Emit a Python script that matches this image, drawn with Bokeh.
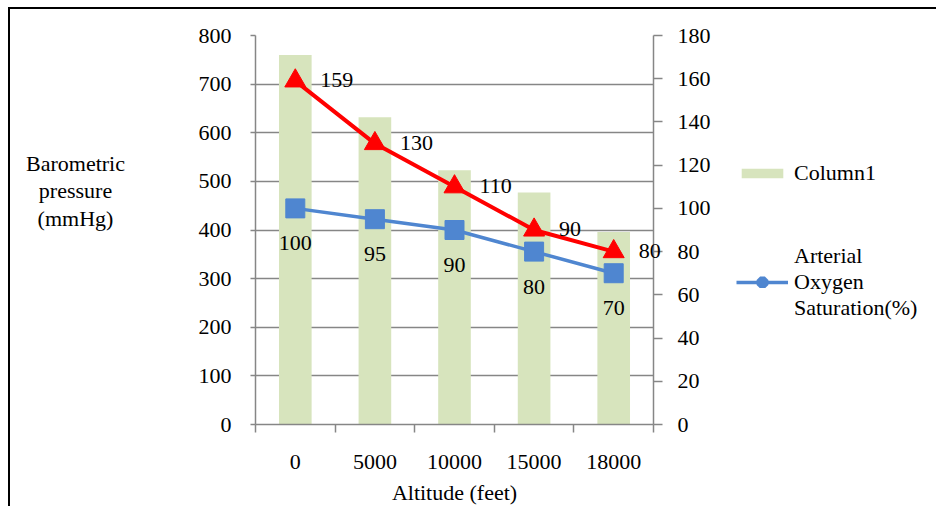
from bokeh.plotting import figure
from bokeh.layouts import row
from bokeh.models import Range1d, LinearAxis, FixedTicker, Legend, LegendItem, ColumnDataSource
from bokeh.core.properties import value
from bokeh.embed import file_html
from bokeh.resources import INLINE

altitudes = ["0", "5000", "10000", "15000", "18000"]
column1 = [760, 632, 523, 477, 396]
red_series = [159, 130, 110, 90, 80]
oxygen_sat = [100, 95, 90, 80, 70]

left_ticks = list(range(0, 801, 100))
right_ticks = list(range(0, 181, 20))
left_title = ["Barometric", "pressure", "(mmHg)"]
legend_labels = ["Column1", "Arterial\nOxygen\nSaturation(%)"]

FONT = "Liberation Serif"
FS = "22px"
GRAY = "#868686"
BLUE = "#4F86D0"
RED = "#FF0000"
GREEN = "#D7E4BD"

xs = [i + 0.5 for i in range(len(altitudes))]
src = ColumnDataSource(dict(
    x=xs, bar=column1, red=red_series, sat=oxygen_sat,
    red_lbl=[str(v) for v in red_series], sat_lbl=[str(v) for v in oxygen_sat]))

p = figure(width=705, height=499, output_backend="svg", toolbar_location=None,
           x_range=Range1d(0, len(altitudes)), y_range=Range1d(0, 800),
           min_border_left=245, min_border_right=62, min_border_top=26, min_border_bottom=84)
p.styles = {"margin-left": "8px", "margin-top": "7px",
            "border-left": "2px solid black", "border-top": "2px solid black"}
p.outline_line_color = None
p.background_fill_color = "white"
p.border_fill_color = "white"

p.extra_y_ranges = {"pct": Range1d(0, 180)}

p.vbar(x="x", top="bar", width=0.41, source=src, fill_color=GREEN, line_color=None)
p.line("x", "red", source=src, y_range_name="pct", line_color=RED, line_width=4)
p.scatter("x", "red", source=src, y_range_name="pct", marker="triangle", size=21,
          fill_color=RED, line_color=RED)
p.line("x", "sat", source=src, y_range_name="pct", line_color=BLUE, line_width=3.5)
p.scatter("x", "sat", source=src, y_range_name="pct", marker="square", size=19,
          fill_color=BLUE, line_color=BLUE)

rt = p.text("x", "red", text="red_lbl", source=src, y_range_name="pct", x_offset=25, y_offset=-1,
            text_align="left", text_baseline="middle", text_font=value(FONT),
            text_font_size=FS, text_color="black")
rt.level = "overlay"
p.text("x", "sat", text="sat_lbl", source=src, y_range_name="pct", y_offset=35,
       text_align="center", text_baseline="middle", text_font=value(FONT),
       text_font_size=FS, text_color="black")

# left title: anchored at the top-left corner of the plot area, drawn outside it
n = len(left_title)
tt = p.text(x=[p.x_range.start] * n, y=[p.y_range.end] * n, text=left_title,
            x_offset=-180, y_offset=[128, 155, 183], text_align="center",
            text_baseline="middle", text_font=value(FONT), text_font_size=FS,
            text_color="black")
tt.level = "overlay"

# grid
p.xgrid.grid_line_color = None
p.ygrid.ticker = FixedTicker(ticks=left_ticks)
p.ygrid.grid_line_color = GRAY
p.ygrid.grid_line_width = 1.5

# left axis
ya = p.yaxis[0]
ya.ticker = FixedTicker(ticks=left_ticks)
ya.axis_line_color = GRAY
ya.axis_line_width = 1.5
ya.major_tick_line_color = GRAY
ya.major_tick_line_width = 1.5
ya.major_tick_out = 5
ya.major_tick_in = 0
ya.minor_tick_line_color = None
ya.major_label_standoff = 19
ya.major_label_text_font = FONT
ya.major_label_text_font_size = FS
ya.major_label_text_color = "black"

# right axis
ra = LinearAxis(y_range_name="pct", ticker=FixedTicker(ticks=right_ticks))
ra.axis_line_color = GRAY
ra.axis_line_width = 1.5
ra.major_tick_line_color = GRAY
ra.major_tick_line_width = 1.5
ra.major_tick_out = 9
ra.major_tick_in = 0
ra.minor_tick_line_color = None
ra.major_label_standoff = 15
ra.major_label_text_font = FONT
ra.major_label_text_font_size = FS
ra.major_label_text_color = "black"
p.add_layout(ra, "right")

# x axis
xa = p.xaxis[0]
xa.ticker = FixedTicker(ticks=xs, minor_ticks=list(range(len(altitudes) + 1)))
xa.major_label_overrides = {x: lab for x, lab in zip(xs, altitudes)}
xa.axis_line_color = GRAY
xa.axis_line_width = 1.5
xa.major_tick_line_color = None
xa.major_tick_out = 0
xa.major_tick_in = 0
xa.minor_tick_line_color = GRAY
xa.minor_tick_line_width = 1.5
xa.minor_tick_out = 8
xa.minor_tick_in = 0
xa.major_label_standoff = 22
xa.major_label_text_font = FONT
xa.major_label_text_font_size = FS
xa.major_label_text_color = "black"
xa.axis_label = "Altitude (feet)"
xa.axis_label_text_font = FONT
xa.axis_label_text_font_size = FS
xa.axis_label_text_font_style = "normal"
xa.axis_label_text_color = "black"
xa.axis_label_standoff = 8

# legend panel: a second, axis-less figure to the right. Its renderers share the
# chart's data but its ranges keep them out of view, so only the legend shows.
lg = figure(width=223, height=499, output_backend="svg", toolbar_location=None,
            x_range=Range1d(-20, -19), y_range=Range1d(-20, -19),
            x_axis_type=None, y_axis_type=None,
            min_border_left=0, min_border_right=0, min_border_top=0, min_border_bottom=0)
lg.styles = {"margin-top": "7px", "border-top": "2px solid black"}
lg.outline_line_color = None
lg.grid.grid_line_color = None
lg.background_fill_color = "white"
lg.border_fill_color = "white"
lb = lg.vbar(x="x", top="bar", width=0.41, source=src, fill_color=GREEN, line_color=None)
ll = lg.line("x", "sat", source=src, line_color=BLUE, line_width=3.5)
ls = lg.scatter("x", "sat", source=src, marker="square", size=12,
                fill_color=BLUE, line_color=BLUE, line_width=7)

legend = Legend(items=[LegendItem(label=legend_labels[0], renderers=[lb]),
                       LegendItem(label=legend_labels[1], renderers=[ll, ls])],
                location=(23, 103), orientation="vertical",
                label_text_font=FONT, label_text_font_size=FS, label_text_color="black",
                label_text_line_height=1.27,
                glyph_width=52, glyph_height=12, spacing=57, padding=0, margin=0,
                label_standoff=6, border_line_color=None, background_fill_alpha=0)
lg.add_layout(legend, "center")

layout = row(p, lg)
open("out.html", "w").write(file_html(layout, INLINE))
